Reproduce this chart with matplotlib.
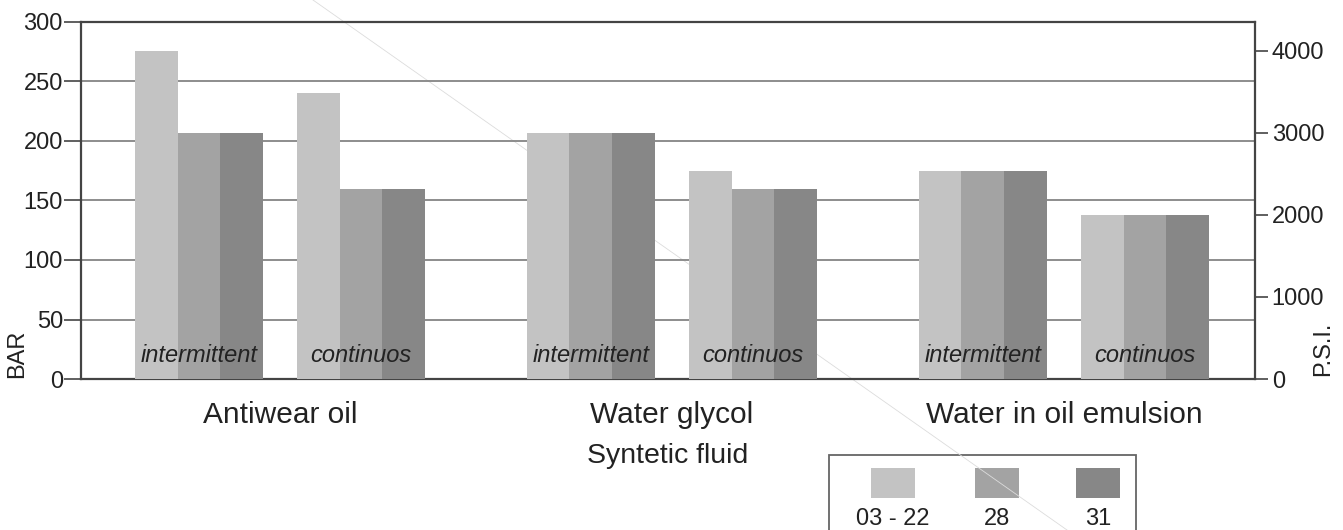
import numpy as np
import matplotlib.pyplot as plt
from matplotlib.patches import Rectangle
from matplotlib.lines import Line2D

plt.rcParams['font.family'] = ['Liberation Sans', 'DejaVu Sans']

# data
fluids = ['Antiwear oil', 'Water glycol', 'Water in oil emulsion']
modes = ['intermittent', 'continuos']
series = ['03 - 22', '28', '31']
v_0322 = [276, 240, 207, 175, 175, 138]
v_28 = [207, 160, 207, 160, 175, 138]
v_31 = [207, 160, 207, 160, 175, 138]
bar_to_psi = 14.5

colors = ['#c3c3c3', '#a3a3a3', '#878787']

fig = plt.figure(figsize=(13.43, 5.30), dpi=100)
W, H = 1343, 530
ax = fig.add_axes([81 / W, 1 - 379 / H, (1255 - 81) / W, (379 - 22) / H])
ax.patch.set_visible(False)

# positions: each unit = one bar width
group_centers = 4.66 + np.arange(len(fluids)) * 9.18
sub_centers = np.concatenate([[g - 1.9, g + 1.9] for g in group_centers])

for k, vals in enumerate([v_0322, v_28, v_31]):
    ax.bar(sub_centers + (k - 1) * 1.0, vals, width=1.0, color=colors[k],
           edgecolor='none', zorder=3)

for i, x in enumerate(sub_centers):
    ax.text(x, 10, modes[i % 2], ha='center', va='bottom', style='italic',
            fontsize=17, color='#222222', zorder=4)

ax.set_xlim(0, (1255 - 81) / 42.7)
ax.set_ylim(0, 300)
ax.set_yticks(np.arange(0, 301, 50))
ax.yaxis.grid(True, color='#858585', linewidth=1.3, zorder=1)
ax.set_axisbelow(True)
ax.tick_params(axis='y', labelsize=17, length=12, width=1.2, color='#444444',
               pad=1, labelcolor='#222222')
ax.set_xticks(group_centers, fluids)
ax.tick_params(axis='x', labelsize=21.5, length=0, pad=16, labelcolor='#222222')
ax.set_xlabel('Syntetic fluid', fontsize=20.5, color='#222222', labelpad=10)
ax.set_ylabel('BAR', fontsize=17, color='#222222')
ax.yaxis.set_label_coords(-0.045, 0.07)
for s in ax.spines.values():
    s.set_color('#444444')
    s.set_linewidth(1.6)

ax2 = ax.twinx()
ax2.set_ylim(0, 300 * bar_to_psi)
ax2.set_yticks(np.arange(0, 4001, 1000))
ax2.tick_params(axis='y', labelsize=17, length=9, width=1.2, color='#444444',
                pad=3, labelcolor='#222222')
ax2.set_ylabel('P.S.I.', fontsize=17, color='#222222')
ax2.yaxis.set_label_coords(1.0486, 0.084)
for s in ax2.spines.values():
    s.set_visible(False)

# faint diagonal scan line
fig.add_artist(Line2D([313 / W, 1067 / W], [1.0, 0.0], color='#dcdcdc',
                      linewidth=0.6, transform=fig.transFigure, zorder=-1))

# legend box
fig.add_artist(Rectangle((829 / W, -0.05), (1136 - 829) / W, (0.05 + 1 - 455 / H),
                         transform=fig.transFigure, facecolor='none',
                         edgecolor='#666666', linewidth=1.3, zorder=-2))
for k, (lab, cx) in enumerate(zip(series, [893, 997, 1098])):
    fig.add_artist(Rectangle(((cx - 22) / W, 1 - 498 / H), 44 / W, 30 / H,
                             transform=fig.transFigure, facecolor=colors[k],
                             edgecolor='none', zorder=-2))
    fig.text(cx / W, 1 - 519 / H, lab, ha='center', va='center', fontsize=17,
             color='#222222')

fig.savefig('out.png', dpi=100)
